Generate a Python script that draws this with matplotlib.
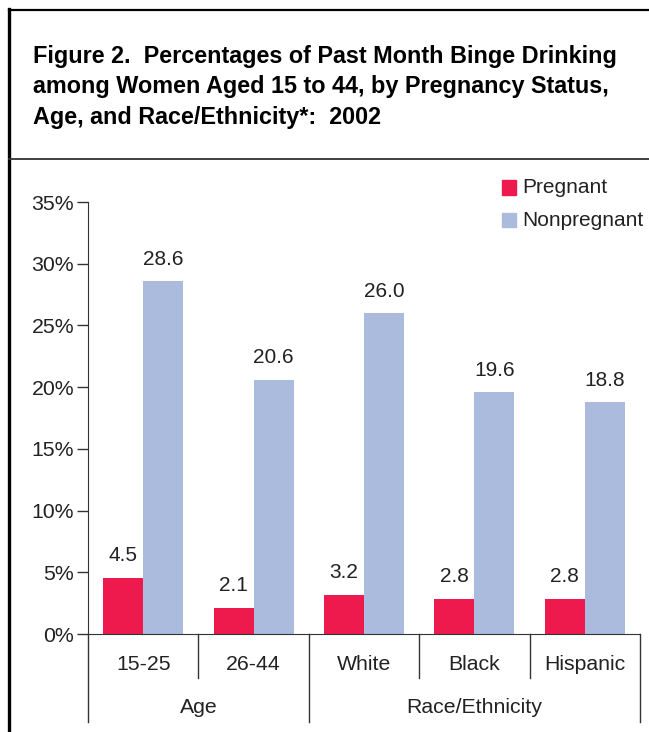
import numpy as np
import matplotlib.pyplot as plt
from matplotlib.lines import Line2D
from matplotlib.patches import Rectangle

plt.rcParams['font.family'] = ['Liberation Sans', 'DejaVu Sans']

# 数据
categories = ['15-25', '26-44', 'White', 'Black', 'Hispanic']
groups = ['Age', 'Race/Ethnicity']
group_span = [(-0.5, 1.5), (1.5, 4.5)]
pregnant = [4.5, 2.1, 3.2, 2.8, 2.8]
nonpregnant = [28.6, 20.6, 26.0, 19.6, 18.8]
yticks = [0, 5, 10, 15, 20, 25, 30, 35]

c_preg = '#EE1A4D'
c_nonp = '#AABBDD'
txt = '#222222'

W, H = 649, 732
fig = plt.figure(figsize=(W / 100, H / 100), dpi=100)

# 外框和标题分隔线
fig.add_artist(Line2D([8.5 / W, 8.5 / W], [0, 1 - 9 / H], color='black', lw=2.4, solid_capstyle='projecting'))
fig.add_artist(Line2D([8.5 / W, 1], [1 - 10 / H, 1 - 10 / H], color='black', lw=1.6))
fig.add_artist(Line2D([8.5 / W, 1], [1 - 158.5 / H, 1 - 158.5 / H], color='#333333', lw=1.3))

title_lines = ['Figure 2.  Percentages of Past Month Binge Drinking',
               'among Women Aged 15 to 44, by Pregnancy Status,',
               'Age, and Race/Ethnicity*:  2002']
for i, line in enumerate(title_lines):
    fig.text(33 / W, 1 - (62.5 + 30.7 * i) / H, line, fontsize=16.8, fontweight='bold',
             ha='left', va='baseline', color='black')

ax = fig.add_axes([88 / W, 1 - 634 / H, 552 / W, 432 / H])
x = np.arange(len(categories))
bw = 0.362
ax.bar(x - bw / 2, pregnant, bw, color=c_preg, zorder=2)
ax.bar(x + bw / 2, nonpregnant, bw, color=c_nonp, zorder=2)

for xi, v in zip(x, pregnant):
    ax.text(xi - bw / 2, v + 1.05, f'{v:.1f}', ha='center', va='bottom', fontsize=15, color=txt)
for xi, v in zip(x, nonpregnant):
    ax.text(xi + bw / 2, v + 1.0, f'{v:.1f}', ha='center', va='bottom', fontsize=15, color=txt)

ax.set_xlim(-0.5, 4.5)
ax.set_ylim(0, 35)
ax.set_yticks(yticks)
ax.set_yticklabels([f'{t}%' for t in yticks], fontsize=15.3, color=txt)
ax.tick_params(axis='y', length=8, width=1, color='#333333', pad=2)
ax.set_xticks([])
for s in ['top', 'right']:
    ax.spines[s].set_visible(False)
ax.spines['left'].set_color('#333333')
ax.spines['bottom'].set_color('#333333')

# 分类轴的分隔线和标签
tr = ax.get_xaxis_transform()
for xi in [0.5, 2.5, 3.5]:
    ax.plot([xi, xi], [0, -0.102], transform=tr, color='#333333', lw=1, clip_on=False)
for xi in [-0.5, 1.5, 4.5]:
    ax.plot([xi, xi], [0, -0.204], transform=tr, color='#333333', lw=1, clip_on=False)
for xi, c in zip(x, categories):
    ax.text(xi, -0.071, c, transform=tr, ha='center', va='center', fontsize=15.3, color=txt)
for (a, b), g in zip(group_span, groups):
    ax.text((a + b) / 2, -0.170, g, transform=tr, ha='center', va='center', fontsize=15.3, color=txt)

# 图例
for yy, col, lab in [(187.5, c_preg, 'Pregnant'), (220, c_nonp, 'Nonpregnant')]:
    fig.add_artist(Rectangle((502 / W, 1 - (yy + 7) / H), 14 / W, 14 / H, color=col))
    fig.text(522 / W, 1 - yy / H, lab, fontsize=15, color=txt, ha='left', va='center')

fig.savefig('out.png', dpi=100)
